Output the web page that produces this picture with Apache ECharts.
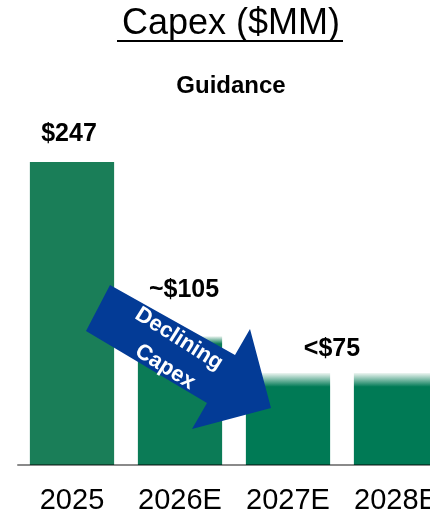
<!DOCTYPE html>
<html>
<head>
<meta charset="utf-8">
<style>
html,body{margin:0;padding:0;background:#fff;}
#chart{width:430px;height:512px;}
</style>
<script src="https://cdn.jsdelivr.net/npm/echarts@6/dist/echarts.min.js"></script>
</head>
<body>
<div id="chart"></div>
<script>
// ---- data ----
var categories = ['2025', '2026E', '2027E', '2028E'];
var capexValues = [247, 105, 75, 75];
var valueLabels = ['$247', '~$105', '<$75', ''];
var titleText = 'Capex ($MM)';
var subtitleText = 'Guidance';
var arrowLines = ['Declining', 'Capex'];

// ---- styles ----
var FONT = '"Liberation Sans", Arial, sans-serif';
var labelStyles = [
  { distance: 15, offset: [-3, 0] },
  { distance: 34, offset: [4, 0] },
  { distance: 11, offset: [44, 0] },
  { distance: 11, offset: [0, 0] }
];
function fade(stop, col) {
  return new echarts.graphic.LinearGradient(0, 0, 0, 1, [
    { offset: 0, color: '#eef6f2' },
    { offset: stop, color: col },
    { offset: 1, color: col }
  ]);
}
var barColors = ['#1a7e58', fade(0.06, '#0b7b56'), fade(0.15, '#007a55'), fade(0.15, '#007a55')];

var chart = echarts.init(document.getElementById('chart'), null, { renderer: 'canvas' });

var option = {
  backgroundColor: '#ffffff',
  animation: false,
  title: [{
    text: titleText,
    left: 231,
    top: 6,
    textAlign: 'center',
    padding: 0,
    textStyle: { fontFamily: FONT, fontSize: 36, fontWeight: 'normal', color: '#000' }
  }, {
    text: subtitleText,
    left: 231,
    top: 74,
    textAlign: 'center',
    padding: 0,
    textStyle: { fontFamily: FONT, fontSize: 24, fontWeight: 'bold', color: '#000' }
  }],
  grid: { left: 18, top: 162, right: -20, bottom: 47, containLabel: false, outerBoundsMode: 'none' },
  xAxis: {
    type: 'category',
    data: categories,
    z: 10,
    axisLine: { show: true, lineStyle: { color: 'rgba(0,0,0,0.46)', width: 2 } },
    axisTick: { show: false },
    axisLabel: { margin: 21, fontFamily: FONT, fontSize: 29, color: '#000', interval: 0 },
    splitLine: { show: false }
  },
  yAxis: {
    type: 'value',
    min: 0,
    max: 247,
    show: false,
    splitLine: { show: false }
  },
  series: [{
    type: 'bar',
    barCategoryGap: '22%',
    data: capexValues.map(function (v, i) {
      return {
        value: v,
        itemStyle: { color: barColors[i] },
        label: {
          show: valueLabels[i] !== '',
          position: 'top',
          distance: labelStyles[i].distance,
          offset: labelStyles[i].offset,
          formatter: valueLabels[i],
          fontFamily: FONT,
          fontSize: 25,
          fontWeight: 'bold',
          color: '#000'
        }
      };
    })
  }],
  graphic: [
    { type: 'line', z: 100, shape: { x1: 117, y1: 41, x2: 343, y2: 41 }, style: { stroke: '#000', lineWidth: 2 } },
    {
      type: 'polygon', z: 100,
      shape: { points: [[110, 285], [235, 355], [250, 329], [271, 408], [192, 429], [207, 403], [86, 331]] },
      style: { fill: '#033b96' }
    },
    {
      type: 'text', z: 101, x: 179, y: 339, rotation: -0.56,
      style: { text: arrowLines[0], fill: '#fff', font: 'bold 22px ' + FONT, align: 'center', verticalAlign: 'middle' }
    },
    {
      type: 'text', z: 101, x: 165, y: 367, rotation: -0.56,
      style: { text: arrowLines[1], fill: '#fff', font: 'bold 22px ' + FONT, align: 'center', verticalAlign: 'middle' }
    }
  ]
};
chart.setOption(option);
</script>
</body>
</html>
